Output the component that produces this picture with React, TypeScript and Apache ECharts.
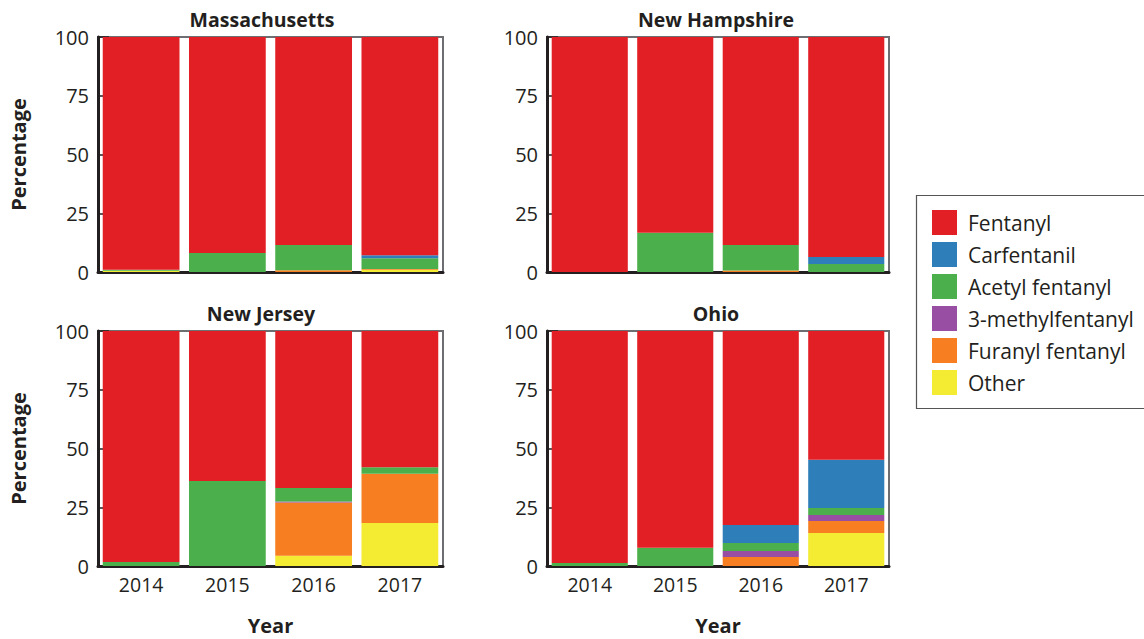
import React, { useEffect, useRef } from "react";
import * as echarts from "echarts";

const years = ["2014", "2015", "2016", "2017"];
const yTicks = [0, 25, 50, 75, 100];

// Massachusetts
const maOther = [0.5, 0, 0, 1.0];
const maFuranyl = [0, 0, 0.7, 0.3];
const maMethyl = [0, 0, 0, 0];
const maAcetyl = [0.5, 8.1, 10.8, 4.6];
const maCarf = [0, 0, 0, 1.2];
const maFentanyl = [99, 91.9, 88.5, 92.9];
// New Hampshire
const nhOther = [0, 0, 0, 0];
const nhFuranyl = [0, 0, 0.6, 0];
const nhMethyl = [0, 0, 0, 0];
const nhAcetyl = [0, 16.7, 10.9, 3.4];
const nhCarf = [0, 0, 0, 3.0];
const nhFentanyl = [100, 83.3, 88.5, 93.6];
// New Jersey
const njOther = [0, 0, 4.4, 18.3];
const njFuranyl = [0, 0, 22.6, 21.0];
const njMethyl = [0, 0, 0.5, 0];
const njAcetyl = [1.7, 36.2, 5.7, 2.7];
const njCarf = [0, 0, 0, 0];
const njFentanyl = [98.3, 63.8, 66.8, 58.0];
// Ohio
const ohOther = [0, 0, 0, 14.0];
const ohFuranyl = [0, 0, 3.8, 5.1];
const ohMethyl = [0, 0, 2.6, 2.6];
const ohAcetyl = [1.3, 7.8, 3.4, 3.0];
const ohCarf = [0, 0, 7.6, 20.5];
const ohFentanyl = [98.7, 92.2, 82.6, 54.8];

const drugNames = ["Other", "Furanyl fentanyl", "3-methylfentanyl", "Acetyl fentanyl", "Carfentanil", "Fentanyl"];
const drugColors = ["#F3EC33", "#F77F21", "#984EA3", "#4BB04B", "#2E7EBA", "#E31F26"];
const legendOrder = ["Fentanyl", "Carfentanil", "Acetyl fentanyl", "3-methylfentanyl", "Furanyl fentanyl", "Other"];

const panelTitles = ["Massachusetts", "New Hampshire", "New Jersey", "Ohio"];
const panelData = [
  [maOther, maFuranyl, maMethyl, maAcetyl, maCarf, maFentanyl],
  [nhOther, nhFuranyl, nhMethyl, nhAcetyl, nhCarf, nhFentanyl],
  [njOther, njFuranyl, njMethyl, njAcetyl, njCarf, njFentanyl],
  [ohOther, ohFuranyl, ohMethyl, ohAcetyl, ohCarf, ohFentanyl],
];

const FONT = "'Open Sans', 'Noto Sans', sans-serif";
const DARK = "#231f20";

export default function App() {
  const ref = useRef<HTMLDivElement>(null);
  useEffect(() => {
    if (!ref.current) return;
    const chart = echarts.init(ref.current, undefined, { renderer: "svg" });
    const grids = [
      { left: 98, top: 37, width: 345, height: 235 },
      { left: 547, top: 37, width: 342, height: 235 },
      { left: 98, top: 331, width: 345, height: 235 },
      { left: 547, top: 331, width: 342, height: 235 },
    ];
    const titleCenters = [
      [262, 19],
      [716, 19],
      [261, 313],
      [716, 313],
    ];
    const series: any[] = [];
    panelData.forEach((arrs, gi) => {
      arrs.forEach((vals, di) => {
        series.push({
          type: "bar",
          name: drugNames[di],
          stack: "s" + gi,
          xAxisIndex: gi,
          yAxisIndex: gi,
          data: vals,
          barCategoryGap: "11%",
          itemStyle: { color: drugColors[di] },
          emphasis: { disabled: true },
        });
      });
    });
    const option: any = {
      animation: false,
      backgroundColor: "#ffffff",
      grid: grids.map((g) => ({
        ...g,
        show: true,
        borderColor: "#6d6e71",
        borderWidth: 2,
        backgroundColor: "transparent",
      })),
      xAxis: grids.map((_, i) => ({
        type: "category",
        gridIndex: i,
        data: years,
        name: i >= 2 ? "Year" : "",
        nameLocation: "middle",
        nameGap: 49,
        nameTextStyle: { fontFamily: FONT, fontSize: 20, fontWeight: "bold", color: DARK },
        axisLine: { show: true, lineStyle: { color: DARK, width: 3 } },
        axisTick: { show: false },
        axisLabel: { show: i >= 2, fontFamily: FONT, fontSize: 19.5, color: DARK, margin: 8 },
        splitLine: { show: false },
      })),
      yAxis: grids.map((_, i) => ({
        type: "value",
        gridIndex: i,
        min: 0,
        max: 100,
        interval: 25,
        name: i % 2 === 0 ? "Percentage" : "",
        nameLocation: "middle",
        nameRotate: 90,
        nameGap: 70,
        nameTextStyle: { fontFamily: FONT, fontSize: 20, fontWeight: "bold", color: DARK },
        axisLine: { show: true, lineStyle: { color: DARK, width: 3 } },
        axisTick: { show: true, inside: true, length: 11, lineStyle: { color: DARK, width: 1.5 } },
        axisLabel: {
          fontFamily: FONT,
          fontSize: 20,
          color: DARK,
          margin: 9,
          formatter: (v: number) => (yTicks.includes(v) ? String(v) : ""),
        },
        splitLine: { show: false },
      })),
      legend: {
        data: legendOrder,
        orient: "vertical",
        left: 932,
        top: 210,
        itemWidth: 25,
        itemHeight: 25,
        itemGap: 7,
        icon: "rect",
        padding: 0,
        selectedMode: false,
        textStyle: { fontFamily: FONT, fontSize: 21, color: DARK, padding: [0, 0, 0, 6] },
      },
      graphic: [
        {
          type: "rect",
          shape: { x: 916.5, y: 195.5, width: 240, height: 213 },
          style: { fill: "none", stroke: "#555", lineWidth: 1.2 },
          silent: true,
        },
        ...panelTitles.map((t, i) => ({
          type: "text",
          x: titleCenters[i][0],
          y: titleCenters[i][1],
          style: {
            text: t,
            fontFamily: FONT,
            fontSize: 19.5,
            fontWeight: "bold",
            fill: DARK,
            align: "center",
            verticalAlign: "middle",
          },
        })),
      ],
      series,
    };
    chart.setOption(option);
    return () => chart.dispose();
  }, []);
  return (
    <div
      ref={ref}
      style={{ position: "fixed", left: 0, top: 0, width: 1144, height: 639, background: "#fff" }}
    />
  );
}
